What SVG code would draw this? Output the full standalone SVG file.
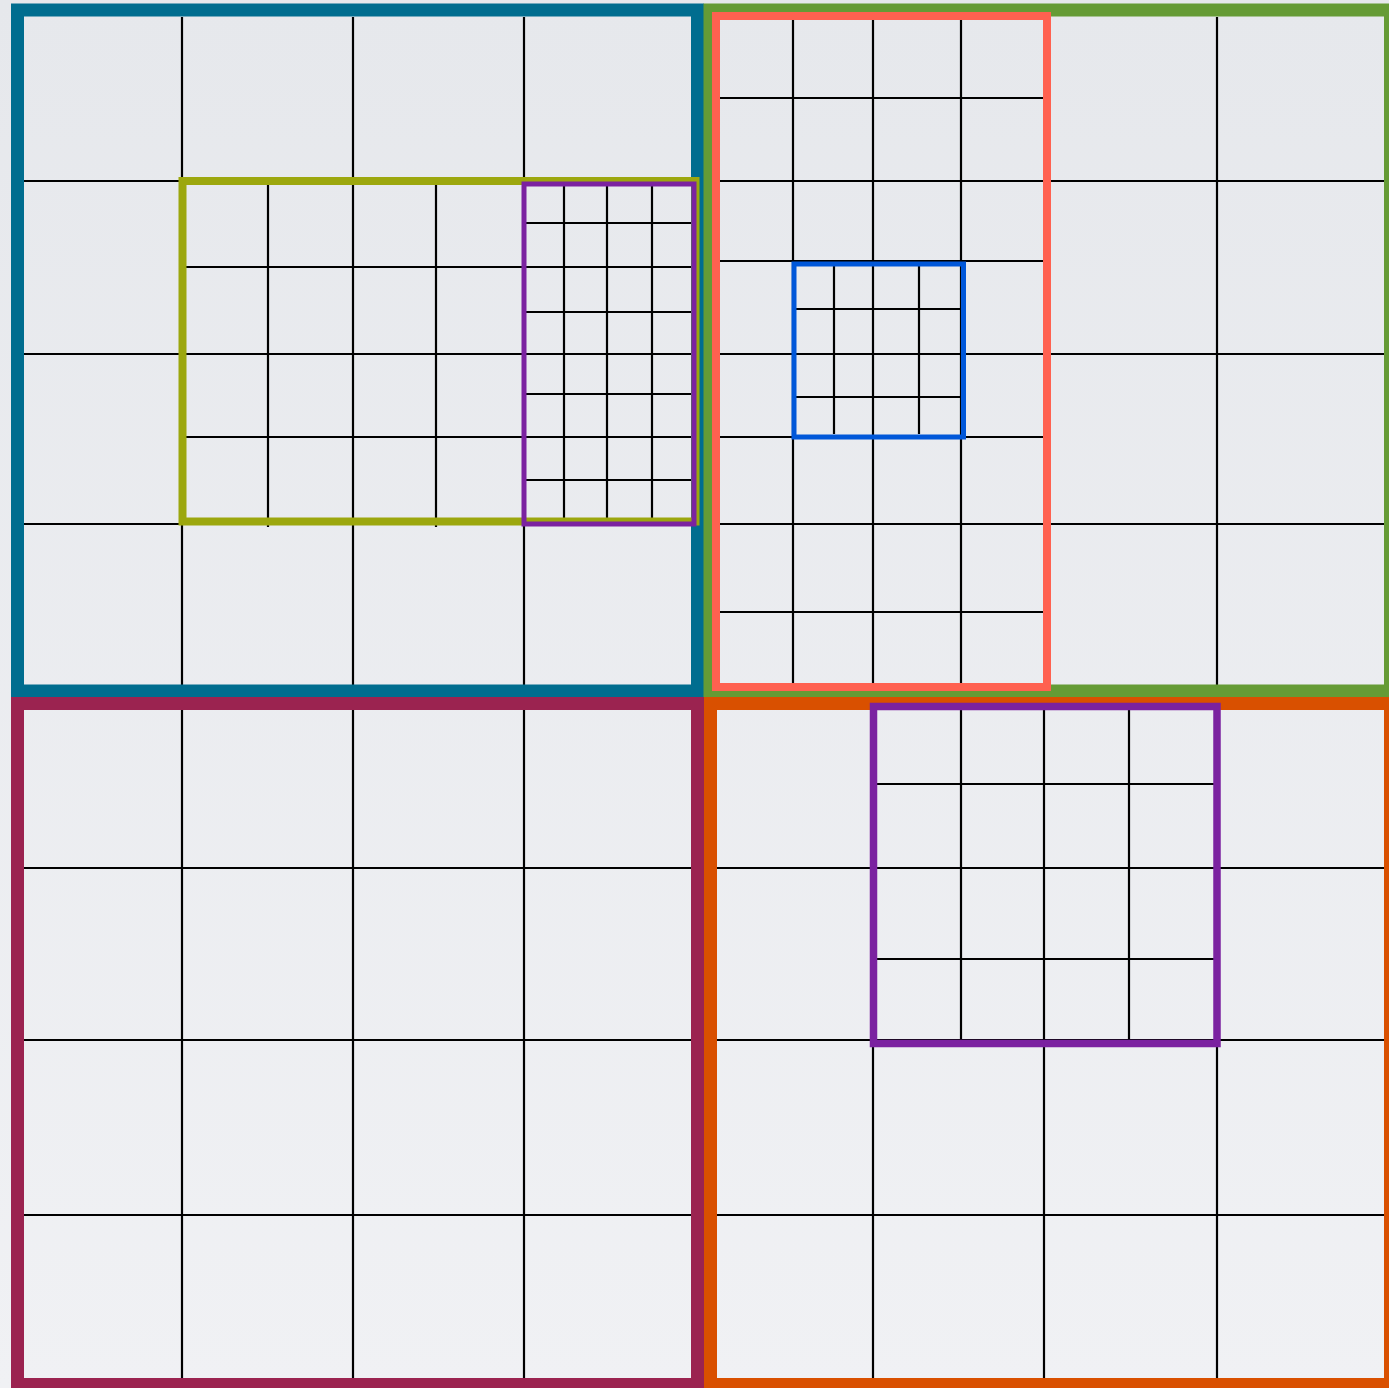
<svg xmlns="http://www.w3.org/2000/svg" width="1389" height="1388" viewBox="0 0 1389 1388">
<defs>
<linearGradient id="bg" x1="0" y1="0" x2="0" y2="1">
<stop offset="0" stop-color="#e6e8ec"/>
<stop offset="1" stop-color="#f0f1f4"/>
</linearGradient>
<style>
.g{stroke:#000;stroke-width:2.2;fill:none}
.f{fill:none}
</style>
</defs>
<rect x="0" y="0" width="1389" height="1388" fill="url(#bg)"/>
<g id="grid-lines" class="g">
<!-- top-left quadrant -->
<path d="M182 17V686M353 17V686M524 17V686M24 181H691M24 354H691M24 524H691"/>
<path d="M268 185V527M436 185V527M186 267H691M186 437H691"/>
<path d="M564 186V521M607 186V521M652 186V521M526 223H691M526 312H691M526 394H692M526 480H691"/>
<!-- top-right quadrant -->
<path d="M793 20V683M873 20V683M961 20V683M1217 17V686"/>
<path d="M720 98H1043M720 181H1384M720 261H1043M720 354H1384M720 437H1043M720 524H1384M720 612H1043"/>
<path d="M834 266V434M919 266V434M796 309H961M796 397H961"/>
<!-- bottom-left quadrant -->
<path d="M182 710V1378M353 710V1378M524 710V1378M24 868H691M24 1040H691M24 1215H691"/>
<!-- bottom-right quadrant -->
<path d="M873 1043V1379M1044 710V1379M1217 710V1379M717 868H1384M717 1040H1384M717 1215H1384"/>
<path d="M961 710V1040M1129 710V1040M877 784H1214M877 959H1214"/>
</g>
<g id="frame-top-left"><rect class="f" x="17.5" y="10" width="680" height="681" stroke="#006d8f" stroke-width="13"/></g>
<g id="frame-top-right"><rect class="f" x="710" y="10" width="680.5" height="681" stroke="#659b35" stroke-width="13"/></g>
<g id="frame-bottom-left"><rect class="f" x="17.5" y="703.5" width="680" height="681" stroke="#9b2350" stroke-width="13"/></g>
<g id="frame-bottom-right"><rect class="f" x="710.5" y="703.5" width="680" height="681" stroke="#d95000" stroke-width="13"/></g>
<g id="coral-region"><rect class="f" x="716" y="16" width="331" height="671" stroke="#ff6150" stroke-width="8"/></g>
<g id="olive-region"><rect class="f" x="182.5" y="181" width="513" height="340.5" stroke="#9ca70e" stroke-width="8"/></g>
<g id="purple-region-top"><rect class="f" x="524" y="184" width="170" height="340" stroke="#7b22a0" stroke-width="5"/></g>
<g id="blue-region"><rect class="f" x="794" y="264" width="169.5" height="173" stroke="#0057d9" stroke-width="5"/></g>
<g id="purple-region-bottom"><rect class="f" x="873.5" y="706.5" width="343.5" height="337" stroke="#7b22a0" stroke-width="7.5"/></g>
</svg>
